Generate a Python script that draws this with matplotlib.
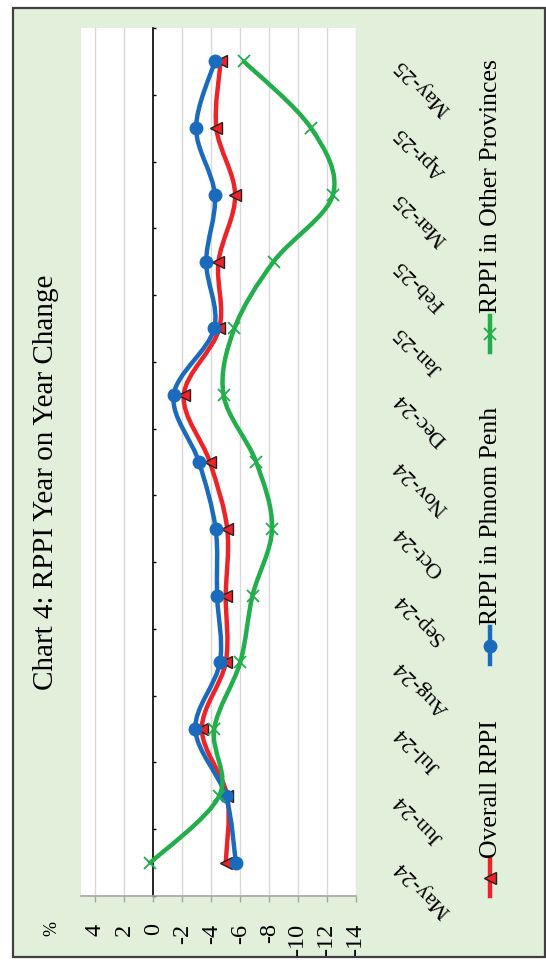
import matplotlib.pyplot as plt
import numpy as np
from matplotlib.path import Path
from matplotlib.patches import PathPatch, Rectangle
from matplotlib.lines import Line2D

plt.rcParams['font.family'] = ['Liberation Serif', 'DejaVu Serif']

# data
months = ['May-24', 'Jun-24', 'Jul-24', 'Aug-24', 'Sep-24', 'Oct-24', 'Nov-24',
          'Dec-24', 'Jan-25', 'Feb-25', 'Mar-25', 'Apr-25', 'May-25']
overall = [-5.0, -5.1, -3.35, -5.0, -5.0, -5.1, -3.9, -2.1, -4.55, -4.5, -5.65, -4.35, -4.65]
phnom_penh = [-5.7, -5.0, -2.9, -4.6, -4.4, -4.3, -3.15, -1.4, -4.2, -3.65, -4.25, -2.95, -4.25]
other_prov = [0.2, -4.55, -4.2, -6.0, -6.85, -8.2, -7.1, -4.85, -5.6, -8.3, -12.4, -10.9, -6.25]
value_ticks = list(range(-14, 5, 2))

RED = '#ED2327'
BLUE = '#1A6BBE'
GREEN = '#22AE4B'
BG = '#E2EFDA'


def smooth_path(xs, ys):
    # excel-like smoothed line: catmull-rom segments as cubic bezier
    pts = np.column_stack([xs, ys])
    n = len(pts)
    verts = [pts[0]]
    codes = [Path.MOVETO]
    for i in range(n - 1):
        p0 = pts[i - 1] if i > 0 else pts[i]
        p1 = pts[i]
        p2 = pts[i + 1]
        p3 = pts[i + 2] if i + 2 < n else pts[i + 1]
        verts += [p1 + (p2 - p0) / 6, p2 - (p3 - p1) / 6, p2]
        codes += [Path.CURVE4] * 3
    return Path(verts, codes)


W, H = 546, 962
fig = plt.figure(figsize=(W / 100, H / 100), dpi=100)
fig.patch.set_facecolor('white')
fig.add_artist(Rectangle((13 / W, 1 - 958 / H), 532 / W, 949.5 / H, transform=fig.transFigure,
                         facecolor=BG, edgecolor='#404040', lw=1.6, zorder=0))

ax = fig.add_axes([81 / W, 1 - 897 / H, 275 / W, 868 / H])
ax.set_facecolor('white')

pos = np.arange(len(months))
series = [(overall, RED, dict(marker='<', ms=8.5, mfc=RED, mec='#222222', mew=1.0)),
          (phnom_penh, BLUE, dict(marker='o', ms=9, mfc=BLUE, mec=BLUE)),
          (other_prov, GREEN, dict(marker='x', ms=8, mec=GREEN, mew=1.3))]
for k, (vals, col, mk) in enumerate(series):
    ax.add_patch(PathPatch(smooth_path(vals, pos), fill=False, edgecolor=col, lw=3.2,
                           capstyle='round', joinstyle='round', zorder=3 + k))
    ax.plot(vals, pos, linestyle='none', zorder=3.5 + k, **mk)

ax.set_xlim(5, -14)
ax.set_ylim(-0.5, len(months) - 0.5)

# value axis (bottom)
ax.set_xticks(value_ticks)
ax.set_xticklabels([str(v) for v in value_ticks], rotation=90, fontsize=17.5)
ax.tick_params(axis='x', direction='out', length=4, width=1, color='#A6A6A6', pad=15)
for v in value_ticks:
    if v != 0:
        ax.axvline(v, color='#D9D9D9', lw=1, zorder=1)

# category axis at zero
ax.spines['left'].set_position(('data', 0))
ax.spines['left'].set_color('black')
ax.spines['left'].set_linewidth(1.2)
ax.spines['left'].set_zorder(2)
ax.spines['top'].set_visible(False)
ax.spines['right'].set_visible(False)
ax.spines['bottom'].set_color('#A6A6A6')
ax.spines['bottom'].set_linewidth(1.2)
ax.set_yticks(np.arange(-0.5, len(months), 1))
ax.set_yticklabels([])
ax.tick_params(axis='y', which='major', direction='in', length=2.5, width=1, color='black')
ax.set_yticks(pos, minor=True)
ax.set_yticklabels(months, minor=True, fontsize=16)
ax.tick_params(axis='y', which='minor', left=False, right=False, labelleft=False,
               labelright=True, length=0, pad=30)
for lbl in ax.get_yticklabels(minor=True):
    lbl.set_rotation(135)
    lbl.set_rotation_mode('anchor')
    lbl.set_ha('right')
    lbl.set_va('center')

# title and unit
fig.text(46 / W, 1 - 482 / H, 'Chart 4: RPPI Year on Year Change', rotation=90,
         fontsize=21, ha='center', va='center')
fig.text(52 / W, 1 - 928 / H, '%', rotation=90, fontsize=13, ha='center', va='center')

# legend drawn by hand (rotated)
legend = [('Overall RPPI', series[0], 860, 897, 858),
          ('RPPI in Phnom Penh', series[1], 628, 665, 625),
          ('RPPI in Other Provinces', series[2], 317, 353, 313)]
for name, (vals, col, mk), y0, y1, ytxt in legend:
    lx = 490 / W
    fig.add_artist(Line2D([lx, lx], [1 - y0 / H, 1 - y1 / H], color=col, lw=3.2,
                          transform=fig.transFigure))
    fig.add_artist(Line2D([lx], [1 - (y0 + y1) / 2 / H], linestyle='none',
                          transform=fig.transFigure, **mk))
    fig.text(491 / W, 1 - ytxt / H, name, rotation=90, fontsize=18.5,
             ha='center', va='bottom')

fig.savefig('out.png', dpi=100)
